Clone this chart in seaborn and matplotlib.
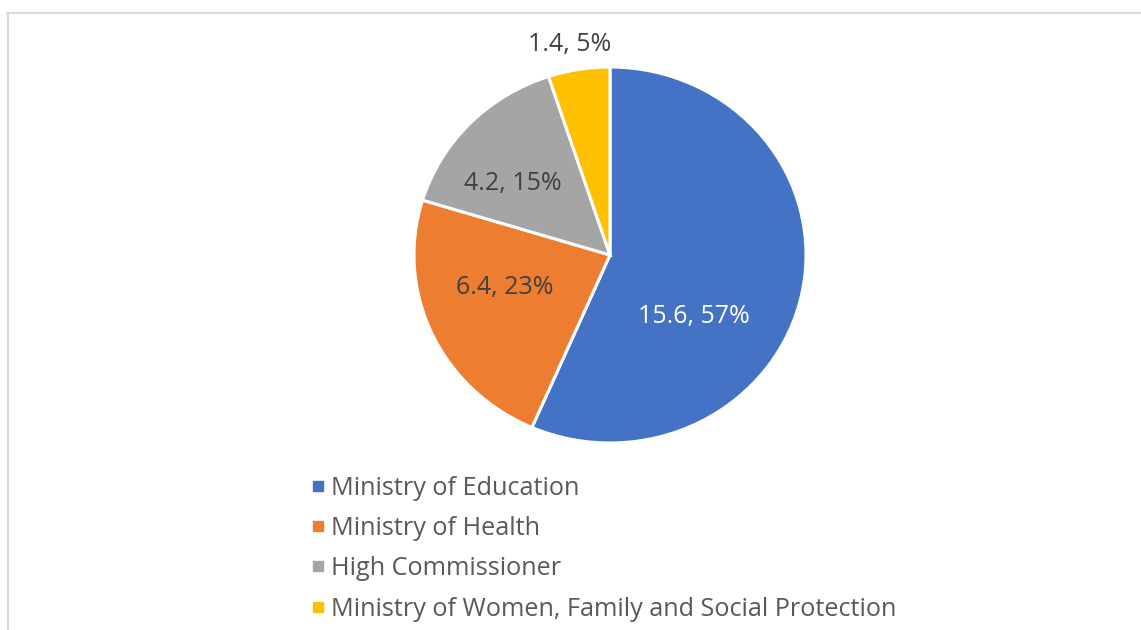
import matplotlib
matplotlib.use("Agg")
import matplotlib.pyplot as plt
from matplotlib.lines import Line2D
import seaborn as sns

categories = ["Ministry of Education", "Ministry of Health", "High Commissioner",
              "Ministry of Women, Family and Social Protection"]
values = [15.6, 6.4, 4.2, 1.4]
colors = ["#4472C4", "#ED7D31", "#A5A5A5", "#FFC000"]

sns.set_theme(style="white")
plt.rcParams['font.family'] = ['Open Sans', 'DejaVu Sans']

W, H = 1141, 630
fig = plt.figure(figsize=(W / 100, H / 100), dpi=100)
fig.patch.set_facecolor("white")

# pie axes: center at pixel (610, 255), radius ~196 px horizontally, 188 px vertically
cx, cy, rx, ry = 610, 255, 196, 188
ax = fig.add_axes([0, 0, 1, 1])
wedges, _ = ax.pie(values, colors=colors, startangle=90, counterclock=False,
                   wedgeprops=dict(edgecolor="white", linewidth=2.2))
ax.set_aspect("auto")
ax.set_xlim(-cx / rx, (W - cx) / rx)
ax.set_ylim(-(H - cy) / ry, cy / ry)
ax.axis("off")

total = sum(values)
label_pos = [(694, 316), (505, 288), (513, 183), (570, 44)]
label_col = ["white", "#404040", "#404040", "#404040"]
for v, (px, py), c in zip(values, label_pos, label_col):
    pct = round(v / total * 100)
    fig.text(px / W, 1 - py / H, f"{v:.1f}, {pct}%", ha="center", va="center",
             fontsize=18, color=c)

# legend
handles = [Line2D([0], [0], marker="s", linestyle="none", markersize=6.5,
                  markerfacecolor=c, markeredgecolor=c) for c in colors]
leg = fig.legend(handles, categories, loc="upper left",
                 bbox_to_anchor=(311 / W, 1 - 476 / H), frameon=False,
                 fontsize=18.2, labelcolor="#595959", handlelength=0.55,
                 handletextpad=0.25, labelspacing=0.60, borderpad=0, borderaxespad=0)

# chart border (partially visible)
fig.add_artist(Line2D([7 / W, 1], [1 - 12.5 / H, 1 - 12.5 / H], color="#d9d9d9", lw=1.5,
                      transform=fig.transFigure))
fig.add_artist(Line2D([7.5 / W, 7.5 / W], [0, 1 - 12.5 / H], color="#d9d9d9", lw=1.5,
                      transform=fig.transFigure))

fig.savefig("out.png", dpi=100, facecolor="white")
